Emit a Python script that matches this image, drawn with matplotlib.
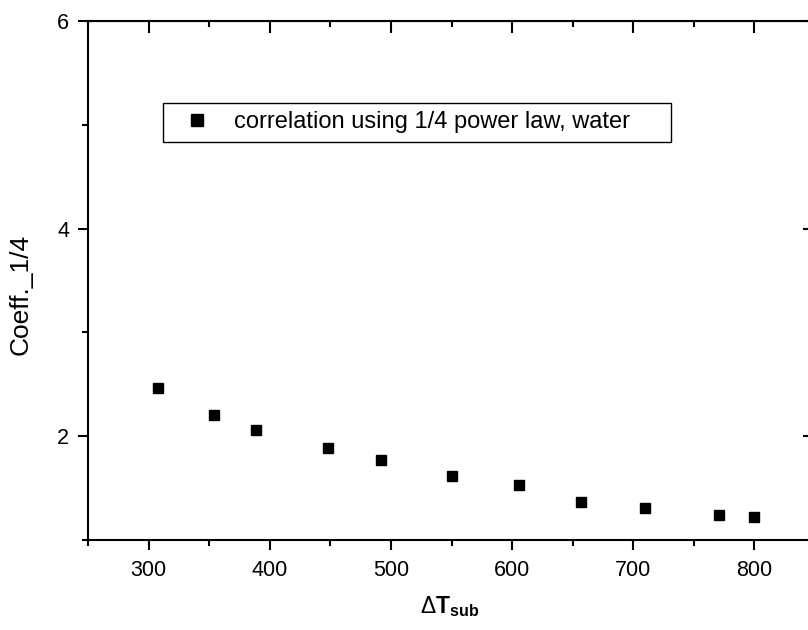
import matplotlib
matplotlib.use('Agg')
import matplotlib.pyplot as plt
from matplotlib.ticker import MultipleLocator

plt.rcParams['font.family'] = ['Liberation Sans', 'DejaVu Sans']
plt.rcParams['mathtext.fontset'] = 'custom'
plt.rcParams['mathtext.rm'] = 'Liberation Sans'
plt.rcParams['mathtext.bf'] = 'Liberation Sans:bold'

# data
dt_sub = [308, 354, 389, 448, 492, 550, 606, 657, 710, 771, 800]
coeff = [2.46, 2.20, 2.06, 1.89, 1.77, 1.62, 1.53, 1.37, 1.31, 1.24, 1.22]
series_label = 'correlation using 1/4 power law, water'

W, H = 808, 630
fig = plt.figure(figsize=(W / 100, H / 100), dpi=100)
# right spine sits just outside the picture, as in the original
ax = fig.add_axes([88 / W, 90 / H, 727 / W, 519 / H])

ax.plot(dt_sub, coeff, 's', color='black', markersize=7, label=series_label)

ax.set_xlim(250, 850)
ax.set_ylim(1, 6)
ax.xaxis.set_major_locator(MultipleLocator(100))
ax.xaxis.set_minor_locator(MultipleLocator(50))
ax.yaxis.set_major_locator(MultipleLocator(2))
ax.yaxis.set_minor_locator(MultipleLocator(1))

for sp in ax.spines.values():
    sp.set_linewidth(1.5)

ax.tick_params(which='both', direction='out', width=1.5, labelsize=15.5,
               top=False, right=False)
ax.tick_params(which='major', length=7.5)
ax.tick_params(which='minor', length=4.5)
ax.tick_params(axis='x', pad=7)
ax.tick_params(axis='y', pad=6)

# mirror ticks pointing inward
top = ax.secondary_xaxis('top')
top.xaxis.set_major_locator(MultipleLocator(100))
top.xaxis.set_minor_locator(MultipleLocator(50))
top.tick_params(which='both', direction='in', width=1.5, labeltop=False)
top.tick_params(which='major', length=8.5)
top.tick_params(which='minor', length=4.5)
right = ax.secondary_yaxis('right')
right.yaxis.set_major_locator(MultipleLocator(2))
right.yaxis.set_minor_locator(MultipleLocator(1))
right.tick_params(which='both', direction='in', width=1.5, labelright=False)
right.tick_params(which='major', length=8.5)
right.tick_params(which='minor', length=4.5)

ax.set_xlabel(r'$\Delta\mathbf{T}_{\mathbf{sub}}$', fontsize=16.5)
ax.xaxis.set_label_coords(0.497, -0.105)
ax.set_ylabel('Coeff._1/4', fontsize=19)
ax.yaxis.set_label_coords(-0.076, 0.474)

leg = ax.legend(loc='upper left', mode='expand',
                bbox_to_anchor=(163 / W, 1 - 142 / H, 508 / W, 39 / H),
                bbox_transform=fig.transFigure, borderaxespad=0,
                fontsize=17, frameon=True, fancybox=False, framealpha=1,
                edgecolor='black', handlelength=2.2, handletextpad=0.44,
                borderpad=0.35, markerscale=1.15)
leg.get_frame().set_linewidth(1.0)

fig.savefig('out.png', dpi=100)
